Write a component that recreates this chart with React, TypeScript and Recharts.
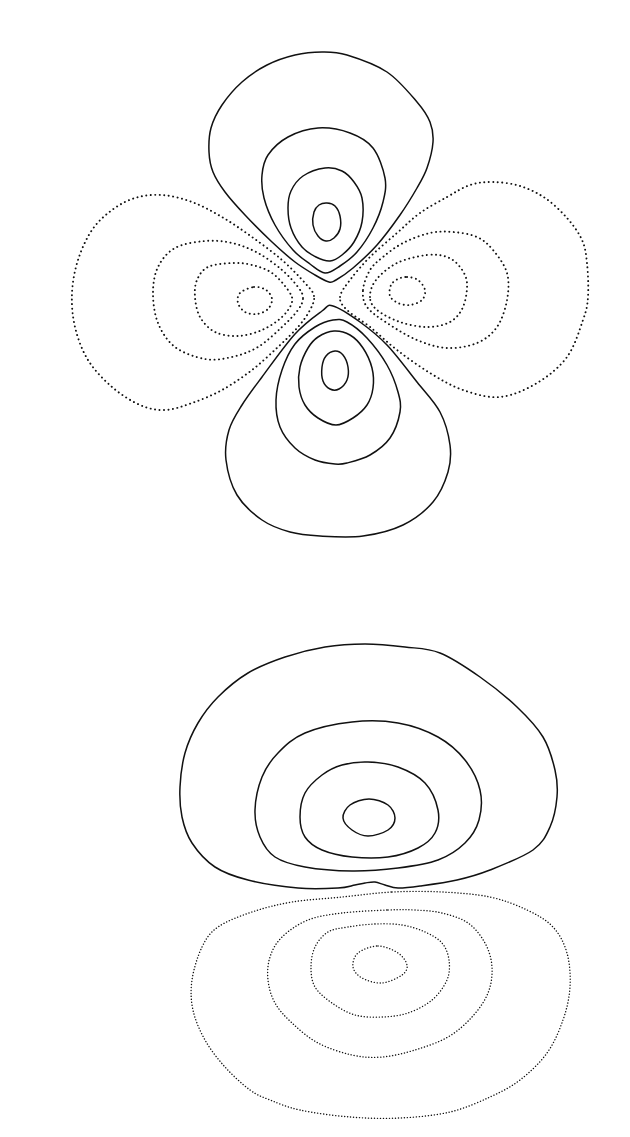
import React from 'react';
import { LineChart, Line, XAxis, YAxis } from 'recharts';

type Pt = [number, number];

// ---- Upper figure: four-lobed orbital (solid = positive, dotted = negative)
const topLobe1: Pt[] = [[329,282],[315,275],[295,262],[272,242],[245,215],[225,192],[213,172],[209,152],[211,128],[222,105],[242,82],[267,65],[295,55],[322,52],[347,55],[387,72],[417,102],[430,122],[433,142],[427,168],[417,188],[400,215],[377,245],[353,268],[336,280]];
const topLobe2: Pt[] = [[325,273],[310,264],[293,250],[275,225],[264,198],[262,175],[268,155],[288,137],[318,128],[350,133],[373,148],[385,178],[383,202],[373,228],[357,252],[340,266]];
const topLobe3: Pt[] = [[330,261],[316,257],[302,247],[291,228],[288,208],[291,191],[303,176],[325,168],[342,171],[354,182],[362,198],[362,222],[354,242],[342,255]];
const topLobe4: Pt[] = [[327,203],[335,206],[340,216],[340,229],[334,238],[326,241],[318,236],[313,225],[314,212],[319,205]];

const bottomLobe1: Pt[] = [[333,306],[360,322],[387,345],[417,382],[440,412],[450,445],[448,472],[433,502],[403,525],[363,536],[320,536],[290,532],[262,520],[237,495],[226,460],[229,430],[242,405],[262,377],[295,334],[322,311]];
const bottomLobe2: Pt[] = [[333,320],[347,322],[367,338],[387,365],[398,392],[400,412],[390,438],[370,455],[347,463],[335,464],[315,460],[295,448],[280,427],[276,400],[282,370],[295,344],[315,327]];
const bottomLobe3: Pt[] = [[334,331],[350,335],[363,348],[372,368],[373,388],[367,405],[353,418],[336,425],[318,418],[305,405],[299,387],[300,367],[308,348],[318,337]];
const bottomLobe4: Pt[] = [[335,351],[343,355],[348,367],[347,380],[339,389],[330,389],[323,381],[322,367],[326,356]];

const leftLobe1: Pt[] = [[314,296],[305,283],[282,260],[252,237],[222,217],[192,202],[162,195],[135,198],[112,210],[92,230],[78,260],[72,293],[75,327],[88,360],[112,387],[140,405],[165,410],[192,403],[222,390],[252,370],[278,347],[298,327],[310,310]];
const leftLobe2: Pt[] = [[303,298],[298,287],[282,270],[258,253],[232,243],[205,241],[175,248],[158,267],[153,293],[158,323],[175,347],[205,359],[232,357],[258,347],[282,327],[298,310]];
const leftLobe3: Pt[] = [[292,302],[288,290],[272,273],[252,265],[232,263],[208,267],[197,280],[195,297],[200,317],[215,332],[238,336],[262,330],[282,317]];
const leftLobe4: Pt[] = [[254,287],[266,290],[272,299],[268,309],[257,314],[245,312],[238,303],[240,293]];

const rightLobe1: Pt[] = [[340,297],[350,280],[370,257],[397,233],[420,213],[447,197],[470,185],[493,182],[520,186],[545,198],[567,218],[582,240],[587,263],[588,297],[583,320],[567,357],[537,383],[500,397],[463,390],[430,373],[397,350],[370,327],[347,310]];
const rightLobe2: Pt[] = [[363,290],[370,270],[383,257],[403,243],[430,233],[453,232],[477,237],[493,250],[507,273],[507,300],[497,327],[477,343],[447,348],[417,340],[387,323],[367,307]];
const rightLobe3: Pt[] = [[370,297],[376,280],[397,263],[427,255],[447,257],[460,267],[467,283],[463,307],[450,322],[427,327],[400,322],[377,310]];
const rightLobe4: Pt[] = [[407,277],[418,280],[425,290],[422,300],[410,305],[398,303],[390,296],[391,285],[398,279]];

// ---- Lower figure: two-lobed orbital
const upperLobe1: Pt[] = [[365,883],[355,885],[338,888],[298,888],[248,880],[215,867],[192,843],[182,817],[180,787],[185,753],[198,723],[218,697],[248,673],[285,657],[325,647],[365,644],[405,647],[440,653],[480,677],[517,707],[543,737],[555,770],[557,797],[550,827],[533,850],[490,870],[457,880],[420,886],[398,888],[385,885],[375,882]];
const upperLobe2: Pt[] = [[352,722],[398,723],[438,737],[465,760],[480,790],[479,820],[465,843],[438,860],[398,868],[352,871],[305,867],[275,857],[260,837],[255,810],[262,777],[278,753],[305,733]];
const upperLobe3: Pt[] = [[368,762],[398,767],[425,783],[438,810],[435,833],[418,848],[388,857],[352,857],[322,850],[305,837],[300,817],[305,793],[322,775],[342,765]];
const upperLobe4: Pt[] = [[369,799],[388,805],[395,818],[388,830],[368,836],[352,830],[343,818],[350,805]];

const lowerLobe1: Pt[] = [[392,892],[442,892],[490,897],[527,910],[553,927],[567,953],[570,987],[563,1020],[547,1053],[520,1080],[490,1097],[450,1112],[400,1118],[350,1117],[300,1110],[270,1100],[250,1090],[225,1067],[205,1040],[193,1010],[192,980],[202,947],[218,927],[252,912],[292,902],[342,897]];
const lowerLobe2: Pt[] = [[388,910],[415,910],[442,913],[468,923],[485,943],[492,967],[488,993],[472,1017],[448,1037],[415,1050],[382,1057],[352,1055],[318,1043],[292,1023],[275,1003],[268,980],[270,957],[282,937],[308,920],[342,913]];
const lowerLobe3: Pt[] = [[375,924],[402,925],[425,932],[442,943],[449,960],[447,980],[432,1000],[408,1013],[382,1017],[355,1015],[332,1003],[315,987],[311,967],[315,947],[328,932],[348,927]];
const lowerLobe4: Pt[] = [[378,946],[398,953],[407,965],[402,975],[382,983],[362,978],[353,967],[358,953]];

type Style = 'solid' | 'dot' | 'fineDot';
const contours: { id: string; pts: Pt[]; style: Style }[] = [
  { id: 'top1', pts: topLobe1, style: 'solid' },
  { id: 'top2', pts: topLobe2, style: 'solid' },
  { id: 'top3', pts: topLobe3, style: 'solid' },
  { id: 'top4', pts: topLobe4, style: 'solid' },
  { id: 'bot1', pts: bottomLobe1, style: 'solid' },
  { id: 'bot2', pts: bottomLobe2, style: 'solid' },
  { id: 'bot3', pts: bottomLobe3, style: 'solid' },
  { id: 'bot4', pts: bottomLobe4, style: 'solid' },
  { id: 'left1', pts: leftLobe1, style: 'dot' },
  { id: 'left2', pts: leftLobe2, style: 'dot' },
  { id: 'left3', pts: leftLobe3, style: 'dot' },
  { id: 'left4', pts: leftLobe4, style: 'dot' },
  { id: 'right1', pts: rightLobe1, style: 'dot' },
  { id: 'right2', pts: rightLobe2, style: 'dot' },
  { id: 'right3', pts: rightLobe3, style: 'dot' },
  { id: 'right4', pts: rightLobe4, style: 'dot' },
  { id: 'up1', pts: upperLobe1, style: 'solid' },
  { id: 'up2', pts: upperLobe2, style: 'solid' },
  { id: 'up3', pts: upperLobe3, style: 'solid' },
  { id: 'up4', pts: upperLobe4, style: 'solid' },
  { id: 'low1', pts: lowerLobe1, style: 'fineDot' },
  { id: 'low2', pts: lowerLobe2, style: 'fineDot' },
  { id: 'low3', pts: lowerLobe3, style: 'fineDot' },
  { id: 'low4', pts: lowerLobe4, style: 'fineDot' },
];

// Closed Catmull-Rom curve factory (d3 curve interface) for smooth closed contours
function closedSmooth(context: any) {
  let pts: number[][] = [];
  return {
    areaStart() {},
    areaEnd() {},
    lineStart() { pts = []; },
    point(x: number, y: number) { pts.push([+x, +y]); },
    lineEnd() {
      const n = pts.length;
      if (n === 0) return;
      if (n < 3) {
        context.moveTo(pts[0][0], pts[0][1]);
        for (let i = 1; i < n; i++) context.lineTo(pts[i][0], pts[i][1]);
        return;
      }
      const g = (i: number) => pts[(i + n) % n];
      context.moveTo(pts[0][0], pts[0][1]);
      for (let i = 0; i < n; i++) {
        const p0 = g(i - 1), p1 = g(i), p2 = g(i + 1), p3 = g(i + 2);
        const c1x = p1[0] + (p2[0] - p0[0]) / 6;
        const c1y = p1[1] + (p2[1] - p0[1]) / 6;
        const c2x = p2[0] - (p3[0] - p1[0]) / 6;
        const c2y = p2[1] - (p3[1] - p1[1]) / 6;
        context.bezierCurveTo(c1x, c1y, c2x, c2y, p2[0], p2[1]);
      }
      context.closePath();
    },
  };
}

const toData = (pts: Pt[]) => pts.map(([x, y]) => ({ x, y }));

const styleProps = (s: Style) => {
  if (s === 'solid') return { strokeWidth: 1.5, strokeDasharray: undefined as string | undefined };
  if (s === 'dot') return { strokeWidth: 1.9, strokeDasharray: '0.1 4.4' };
  return { strokeWidth: 1.4, strokeDasharray: '0.1 2.9' };
};

export default function App() {
  return (
    <div style={{ position: 'absolute', left: 0, top: 0, width: 630, height: 1137, background: '#ffffff', overflow: 'hidden' }}>
      <LineChart width={630} height={1137} margin={{ top: 0, right: 0, bottom: 0, left: 0 }}>
        <XAxis type="number" dataKey="x" domain={[0, 630]} allowDataOverflow hide />
        <YAxis type="number" dataKey="y" domain={[0, 1137]} allowDataOverflow reversed hide />
        {contours.map((c) => {
          const sp = styleProps(c.style);
          return (
            <Line
              key={c.id}
              data={toData(c.pts)}
              dataKey="y"
              type={closedSmooth as any}
              stroke="#111111"
              strokeWidth={sp.strokeWidth}
              strokeDasharray={sp.strokeDasharray}
              strokeLinecap="round"
              fill="none"
              dot={false}
              activeDot={false}
              isAnimationActive={false}
              legendType="none"
            />
          );
        })}
      </LineChart>
    </div>
  );
}
